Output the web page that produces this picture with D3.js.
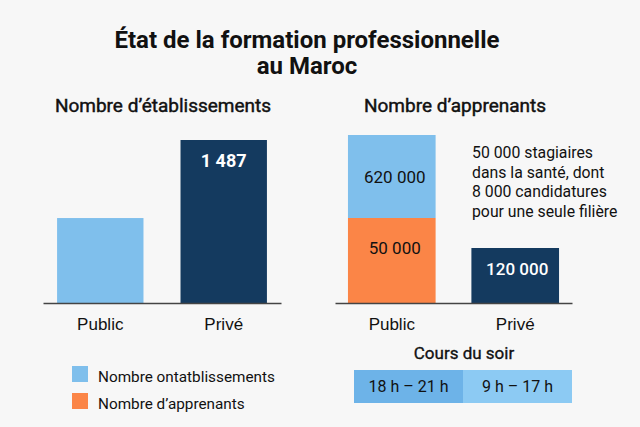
<!DOCTYPE html>
<html>
<head>
<meta charset="utf-8">
<script src="https://cdn.jsdelivr.net/npm/d3@7"></script>
<style>
  html, body { margin: 0; padding: 0; background: #f7f7f7; }
  svg { display: block; font-family: Roboto, "Liberation Sans", sans-serif; }
</style>
</head>
<body>
<div id="chart"></div>
<script>
// données
var categories = ["Public", "Privé"];
var etablissements = [775, 1487];
var etablissementsLabels = ["", "1 487"];

// barre empilée "Public" : segments du bas vers le haut (longueurs telles que dessinées, pas à l'échelle)
var apprenantsPublic = [85, 83];
var apprenantsPublicLabels = ["50 000", "620 000"];
var apprenantsPrive = [55];
var apprenantsPriveLabels = ["120 000"];

var legendLabels = ["Nombre ontatblissements", "Nombre d\u2019apprenants"];
var coursSoir = ["18 h \u2013 21 h", "9 h \u2013 17 h"];
var noteLines = ["50 000 stagiaires", "dans la santé, dont", "8 000 candidatures", "pour une seule filière"];

function init () {
    var w = 640, h = 427;
    var lightBlue = "#7fbfec", navy = "#143a5f", orange = "#fb8547";

    var svg = d3.select("#chart").append("svg")
        .attr("width", w).attr("height", h);

    svg.append("rect").attr("width", w).attr("height", h).attr("fill", "#f7f7f7");

    // titre
    var title = svg.append("text")
        .attr("text-anchor", "middle")
        .attr("font-size", 24).attr("font-weight", 700).attr("fill", "#111");
    title.append("tspan").attr("x", 307).attr("y", 48).text("État de la formation professionnelle");
    title.append("tspan").attr("x", 307).attr("y", 74).text("au Maroc");

    // sous-titres (graisse moyenne simulée par un léger contour)
    svg.append("text").attr("x", 163).attr("y", 112).attr("text-anchor", "middle")
        .attr("font-size", 19).attr("fill", "#111")
        .attr("stroke", "#111").attr("stroke-width", 0.45)
        .text("Nombre d\u2019établissements");
    svg.append("text").attr("x", 455).attr("y", 112).attr("text-anchor", "middle")
        .attr("font-size", 19).attr("fill", "#111")
        .attr("stroke", "#111").attr("stroke-width", 0.45)
        .text("Nombre d\u2019apprenants");

    var baseY = 303;

    // graphique de gauche
    var xL = d3.scaleBand().domain(categories).range([43, 281]).paddingInner(0.3).paddingOuter(0.114);
    var yL = d3.scaleLinear().domain([0, 1487]).range([baseY, 140]);

    svg.selectAll("rect.etab")
        .data(etablissements)
        .enter()
        .append("rect")
        .attr("class", "etab")
        .attr("x", function(d, i) { return xL(categories[i]); })
        .attr("y", function(d) { return yL(d); })
        .attr("width", xL.bandwidth())
        .attr("height", function(d) { return baseY - yL(d); })
        .attr("fill", function(d, i) { return i == 0 ? lightBlue : navy; });

    svg.selectAll("text.etabLabel")
        .data(etablissements)
        .enter()
        .append("text")
        .attr("class", "etabLabel")
        .attr("x", function(d, i) { return xL(categories[i]) + xL.bandwidth() / 2; })
        .attr("y", function(d) { return yL(d) + 27; })
        .attr("text-anchor", "middle")
        .attr("font-size", 18).attr("font-weight", 700).attr("fill", "#fff")
        .text(function(d, i) { return etablissementsLabels[i]; });

    var axisL = d3.axisBottom(xL).tickSize(0).tickPadding(15);
    var gL = svg.append("g").attr("transform", "translate(0," + baseY + ")").call(axisL);
    gL.select(".domain").attr("stroke", "#444").attr("stroke-width", 1.5);
    gL.selectAll("text").attr("font-size", 17).attr("fill", "#111").attr("font-family", null);

    // graphique de droite
    var xR = d3.scaleBand().domain(categories).range([335, 572]).paddingInner(0.29).paddingOuter(0.105);
    var yR = d3.scaleLinear().domain([0, 168]).range([baseY, 135]);

    var stack = [];
    var acc = 0;
    apprenantsPublic.forEach(function(v, i) {
        stack.push({ y0: acc, y1: acc + v, label: apprenantsPublicLabels[i], color: i == 0 ? orange : lightBlue });
        acc += v;
    });

    svg.selectAll("rect.pub")
        .data(stack)
        .enter()
        .append("rect")
        .attr("class", "pub")
        .attr("x", xR("Public"))
        .attr("y", function(d) { return yR(d.y1); })
        .attr("width", xR.bandwidth())
        .attr("height", function(d) { return yR(d.y0) - yR(d.y1); })
        .attr("fill", function(d) { return d.color; });

    svg.selectAll("text.pubLabel")
        .data(stack)
        .enter()
        .append("text")
        .attr("class", "pubLabel")
        .attr("x", xR("Public") + xR.bandwidth() / 2 + 3)
        .attr("y", function(d, i) { return (i == 0 ? yR(d.y1) + 36 : yR(d.y1) + 48); })
        .attr("text-anchor", "middle")
        .attr("font-size", 17).attr("fill", "#111")
        .text(function(d) { return d.label; });

    svg.selectAll("rect.priv")
        .data(apprenantsPrive)
        .enter()
        .append("rect")
        .attr("class", "priv")
        .attr("x", xR("Privé"))
        .attr("y", function(d) { return yR(d); })
        .attr("width", xR.bandwidth())
        .attr("height", function(d) { return baseY - yR(d); })
        .attr("fill", navy);

    svg.selectAll("text.privLabel")
        .data(apprenantsPrive)
        .enter()
        .append("text")
        .attr("class", "privLabel")
        .attr("x", xR("Privé") + xR.bandwidth() / 2 + 2)
        .attr("y", function(d) { return yR(d) + 27; })
        .attr("text-anchor", "middle")
        .attr("font-size", 17).attr("font-weight", 500).attr("fill", "#fff")
        .text(function(d, i) { return apprenantsPriveLabels[i]; });

    var axisR = d3.axisBottom(xR).tickSize(0).tickPadding(15);
    var gR = svg.append("g").attr("transform", "translate(0," + baseY + ")").call(axisR);
    gR.select(".domain").attr("stroke", "#444").attr("stroke-width", 1.5);
    gR.selectAll("text").attr("font-size", 17).attr("fill", "#111").attr("font-family", null);

    // note
    svg.append("g").selectAll("text")
        .data(noteLines)
        .enter()
        .append("text")
        .attr("x", 472)
        .attr("y", function(d, i) { return 158 + i * 19.5; })
        .attr("font-size", 15.8).attr("fill", "#111")
        .text(function(d) { return d; });

    // légende
    var legend = svg.append("g");
    legend.selectAll("rect")
        .data(legendLabels)
        .enter()
        .append("rect")
        .attr("x", 72)
        .attr("y", function(d, i) { return 366 + i * 27; })
        .attr("width", 16).attr("height", 16)
        .attr("fill", function(d, i) { return i == 0 ? lightBlue : orange; });
    legend.selectAll("text")
        .data(legendLabels)
        .enter()
        .append("text")
        .attr("x", 98)
        .attr("y", function(d, i) { return 382 + i * 27; })
        .attr("font-size", 15.3).attr("fill", "#111")
        .text(function(d) { return d; });

    // cours du soir
    svg.append("text").attr("x", 464).attr("y", 359).attr("text-anchor", "middle")
        .attr("font-size", 17).attr("fill", "#111")
        .attr("stroke", "#111").attr("stroke-width", 0.35)
        .text("Cours du soir");

    var xC = d3.scaleBand().domain(coursSoir).range([354, 572]);
    svg.selectAll("rect.cours")
        .data(coursSoir)
        .enter()
        .append("rect")
        .attr("class", "cours")
        .attr("x", function(d) { return xC(d); })
        .attr("y", 370)
        .attr("width", xC.bandwidth())
        .attr("height", 33)
        .attr("fill", function(d, i) { return i == 0 ? "#6db3e8" : "#8ccaf3"; });
    svg.selectAll("text.cours")
        .data(coursSoir)
        .enter()
        .append("text")
        .attr("class", "cours")
        .attr("x", function(d) { return xC(d) + xC.bandwidth() / 2; })
        .attr("y", 392)
        .attr("text-anchor", "middle")
        .attr("font-size", 16).attr("fill", "#111")
        .text(function(d) { return d; });
}
window.onload = init;
</script>
</body>
</html>
